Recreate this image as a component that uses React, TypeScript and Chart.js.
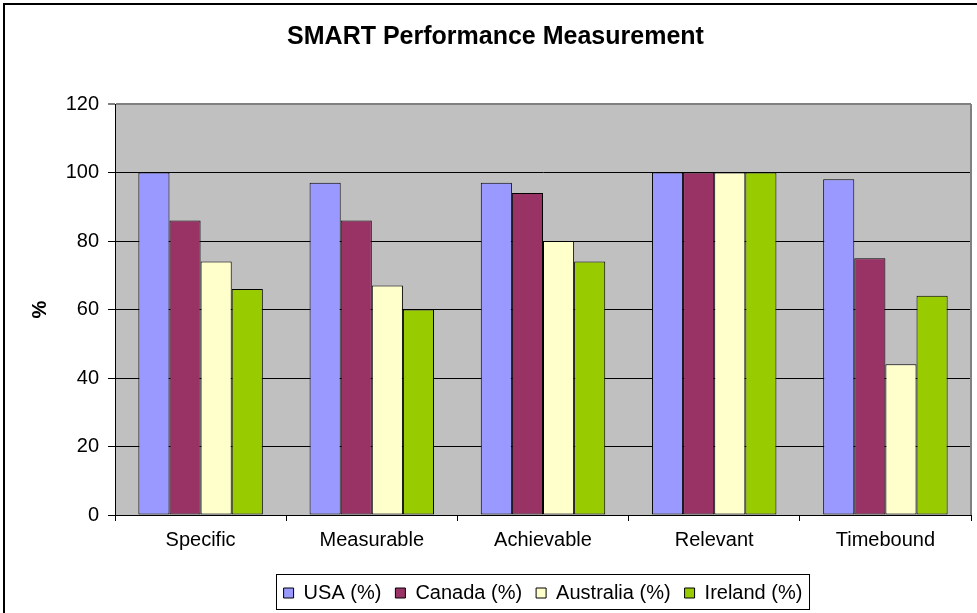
import React, { useEffect, useRef } from "react";
import { Chart, registerables } from "chart.js";

Chart.register(...registerables);
Chart.defaults.font.family = "'Liberation Sans', Arial, sans-serif";

const categories = ["Specific", "Measurable", "Achievable", "Relevant", "Timebound"];
const seriesNames = ["USA (%)", "Canada (%)", "Australia (%)", "Ireland (%)"];
const usa = [100, 97, 97, 100, 98];
const canada = [86, 86, 94, 100, 75];
const australia = [74, 67, 80, 100, 44];
const ireland = [66, 60, 74, 100, 64];
const seriesColors = ["#9999FF", "#993366", "#FFFFCC", "#99CC00"];
const yTicks = [0, 20, 40, 60, 80, 100, 120];
const titleText = "SMART Performance Measurement";
const yAxisTitle = "%";

const framePlugin = {
  id: "framePlugin",
  beforeDraw(chart: any) {
    const { ctx, chartArea } = chart;
    const { left, top, right, bottom } = chartArea;
    ctx.save();
    ctx.fillStyle = "#C0C0C0";
    ctx.fillRect(left, top, right - left, bottom - top);
    ctx.restore();
  },
  afterDraw(chart: any) {
    const { ctx, chartArea } = chart;
    const { top, right, bottom } = chartArea;
    ctx.save();
    // plot area right border
    ctx.strokeStyle = "#808080";
    ctx.lineWidth = 2;
    ctx.beginPath();
    ctx.moveTo(Math.round(right), Math.round(top));
    ctx.lineTo(Math.round(right), Math.round(bottom));
    ctx.stroke();
    // legend frame
    const lg = chart.legend;
    if (lg && lg.legendHitBoxes && lg.legendHitBoxes.length) {
      const hb = lg.legendHitBoxes;
      const l = Math.min(...hb.map((h: any) => h.left)) - 8;
      const r = Math.max(...hb.map((h: any) => h.left + h.width)) + 6;
      const cy = hb[0].top + hb[0].height / 2;
      ctx.strokeStyle = "#000";
      ctx.lineWidth = 1;
      ctx.strokeRect(Math.round(l) + 0.5, Math.round(cy - 19) + 0.5, Math.round(r - l), 35);
    }
    // outer chart frame
    ctx.strokeStyle = "#000";
    ctx.lineWidth = 2;
    ctx.strokeRect(4, 4, chart.width + 20, chart.height + 20);
    ctx.restore();
  },
};

export default function App() {
  const ref = useRef<HTMLCanvasElement>(null);
  useEffect(() => {
    if (!ref.current) return;
    const values = [usa, canada, australia, ireland];
    const chart = new Chart(ref.current, {
      type: "bar",
      data: {
        labels: categories,
        datasets: seriesNames.map((name, i) => ({
          label: name,
          data: values[i],
          backgroundColor: seriesColors[i],
          borderColor: "#000",
          borderWidth: 1,
          borderSkipped: false,
          categoryPercentage: 0.727,
          barPercentage: 1,
        })),
      },
      options: {
        responsive: false,
        animation: false,
        layout: { padding: { left: 20, right: 6, top: 0, bottom: 0 } },
        plugins: {
          tooltip: { enabled: false },
          title: {
            display: true,
            text: titleText,
            color: "#000",
            font: { size: 25, weight: "bold" },
            padding: { top: 22, bottom: 52 },
          },
          legend: {
            position: "bottom",
            fullSize: false,
            labels: {
              boxWidth: 10,
              boxHeight: 10,
              padding: 14,
              color: "#000",
              font: { size: 20 },
            },
          },
        },
        scales: {
          x: {
            offset: true,
            grid: {
              offset: true,
              drawOnChartArea: false,
              drawTicks: true,
              tickLength: 6,
              color: "#000",
            },
            border: { display: true, color: "#000", width: 1 },
            ticks: { color: "#000", font: { size: 20 }, padding: 7, maxRotation: 0, autoSkip: false },
            afterFit: (s: any) => {
              s.height = 54;
            },
          },
          y: {
            min: 0,
            max: 120,
            afterBuildTicks: (s: any) => {
              s.ticks = yTicks.map((v) => ({ value: v }));
            },
            ticks: { color: "#000", font: { size: 20 }, padding: 9 },
            grid: {
              color: (c: any) => (c.tick && c.tick.value === 120 ? "#808080" : "#000"),
              lineWidth: (c: any) => (c.tick && c.tick.value === 120 ? 2 : 1),
              tickLength: 7,
            },
            border: { color: "#000", width: 1 },
            title: {
              display: true,
              text: yAxisTitle,
              color: "#000",
              font: { size: 20, weight: "bold" },
              padding: { top: 8, bottom: 0 },
            },
            afterFit: (s: any) => {
              s.width = 95;
            },
          },
        },
      },
      plugins: [framePlugin],
    });
    return () => chart.destroy();
  }, []);
  return (
    <div style={{ position: "absolute", left: 0, top: 0, width: 977, height: 613 }}>
      <canvas ref={ref} width={977} height={613} />
    </div>
  );
}
